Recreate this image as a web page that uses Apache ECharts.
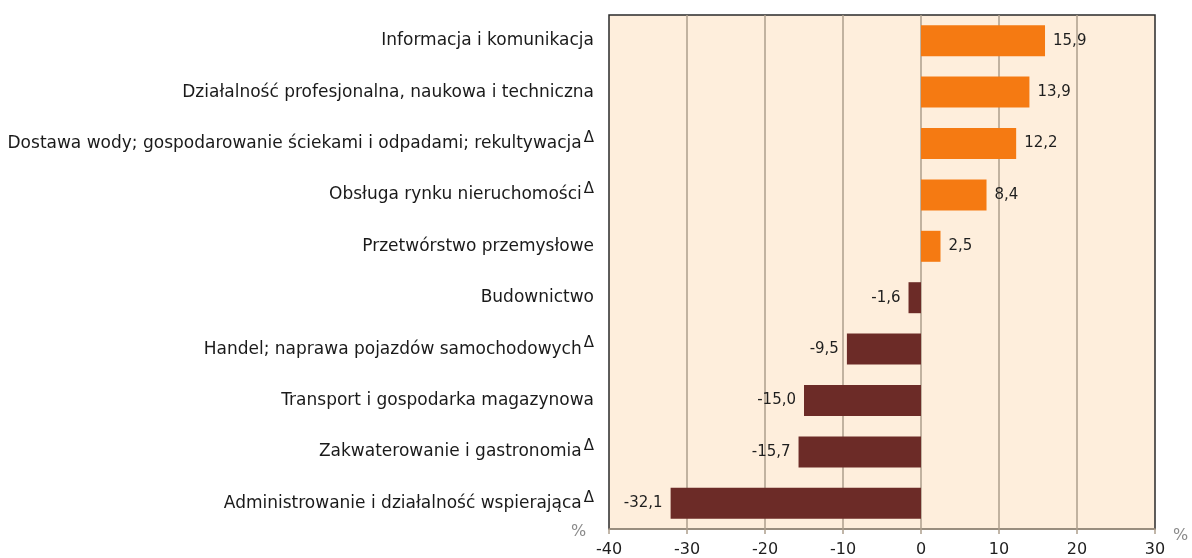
<!DOCTYPE html>
<html>
<head>
<meta charset="utf-8">
<style>
  html, body { margin: 0; padding: 0; background: #fff; }
  #chart { width: 1192px; height: 558px; }
</style>
<script src="https://cdn.jsdelivr.net/npm/echarts@6/dist/echarts.min.js"></script>
</head>
<body>
<div id="chart"></div>
<script>
// sekcje PKD, od góry do dołu
var categories = [
  'Informacja i komunikacja',
  'Działalność profesjonalna, naukowa i techniczna',
  'Dostawa wody; gospodarowanie ściekami i odpadami; rekultywacja',
  'Obsługa rynku nieruchomości',
  'Przetwórstwo przemysłowe',
  'Budownictwo',
  'Handel; naprawa pojazdów samochodowych',
  'Transport i gospodarka magazynowa',
  'Zakwaterowanie i gastronomia',
  'Administrowanie i działalność wspierająca'
]
// sekcje oznaczone symbolem Δ
var deltaMark = [false, false, true, true, false, false, true, false, true, true]
var values = [15.9, 13.9, 12.2, 8.4, 2.5, -1.6, -9.5, -15.0, -15.7, -32.1]
var xTicks = [-40, -30, -20, -10, 0, 10, 20, 30]

var ORANGE = '#f57a12'
var BROWN = '#6c2b27'
var GRIDCOL = '#ad9e8c'
var FONT = 'DejaVu Sans'

var chart = echarts.init(document.getElementById('chart'))

function fmt(v) {
  return v.toFixed(1).replace('.', ',')
}

chart.setOption({
  backgroundColor: '#ffffff',
  animation: false,
  grid: {
    left: 609,
    right: 37,
    top: 15,
    bottom: 29,
    show: true,
    backgroundColor: '#feeedc',
    borderColor: '#2a2a2a',
    borderWidth: 1.5
  },
  graphic: [{
    type: 'text',
    left: 571,
    top: 524,
    style: {
      text: '%',
      fill: '#8a8a8a',
      font: '16px "DejaVu Sans"'
    }
  }],
  xAxis: {
    type: 'value',
    min: xTicks[0],
    max: xTicks[xTicks.length - 1],
    interval: 10,
    name: '%',
    nameLocation: 'end',
    nameGap: 18,
    nameTextStyle: {
      color: '#8a8a8a',
      fontFamily: FONT,
      fontSize: 16,
      verticalAlign: 'top',
      lineHeight: 14
    },
    axisLine: { show: true, lineStyle: { color: GRIDCOL, width: 1.5 } },
    axisTick: { show: true, length: 5, lineStyle: { color: GRIDCOL, width: 1.5 } },
    axisLabel: {
      margin: 13,
      color: '#1e1e1e',
      fontFamily: FONT,
      fontSize: 16
    },
    splitLine: {
      show: true,
      showMinLine: false,
      showMaxLine: false,
      lineStyle: { color: GRIDCOL, width: 1.5 }
    }
  },
  yAxis: {
    type: 'category',
    inverse: true,
    data: categories,
    axisLine: { show: false },
    axisTick: { show: false },
    axisLabel: {
      margin: 15,
      interval: 0,
      formatter: function(name, idx) {
        return '{t|' + name + '}' + (deltaMark[idx] ? '{d|Δ}' : '')
      },
      rich: {
        t: {
          color: '#1a1a1a',
          fontFamily: FONT,
          fontSize: 17,
          lineHeight: 26
        },
        d: {
          color: '#1a1a1a',
          fontFamily: FONT,
          fontSize: 15,
          lineHeight: 14,
          verticalAlign: 'top',
          padding: [0, 0, 0, 2]
        }
      }
    }
  },
  series: [{
    type: 'bar',
    barWidth: 31,
    data: values.map(function(v) {
      return {
        value: v,
        itemStyle: { color: v >= 0 ? ORANGE : BROWN },
        label: { position: v >= 0 ? 'right' : 'left' }
      }
    }),
    label: {
      show: true,
      distance: 8,
      color: '#1e1e1e',
      fontFamily: FONT,
      fontSize: 15,
      formatter: function(p) {
        return fmt(p.value)
      }
    }
  }]
})
</script>
</body>
</html>
